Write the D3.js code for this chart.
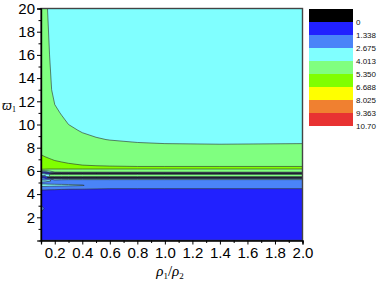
<!DOCTYPE html>
<html><head><meta charset="utf-8">
<script src="https://cdn.jsdelivr.net/npm/d3@7"></script>
<style>body{margin:0;background:#fff}svg{display:block}</style>
</head><body><svg id="c" width="381" height="283"></svg>
<script>
// grid columns (rho1/rho2) and rows (varpi1)
const xs = [0.1, 0.13, 0.16, 0.2, 0.25, 0.3, 0.4, 0.5, 0.6, 0.8, 1.0, 1.4, 2.0];
const ys = [20, 16, 13, 11, 9.5, 8.7, 8.0, 7.5, 7.0, 6.5, 6.35, 6.2, 6.05, 5.9, 5.83, 5.75, 5.69, 5.52, 5.45, 5.38, 5.3, 5.15, 4.95, 4.75, 4.5, 4.2, 3.3, 2.75, 2.2, 0];
const z = [
  [4.7, 4.3, 3.8, 3.3, 3.3, 3.3, 3.3, 3.3, 3.3, 3.3, 3.3, 3.3, 3.3],
  [4.7, 4.5, 4.05, 3.35, 3.3, 3.3, 3.3, 3.3, 3.3, 3.3, 3.3, 3.3, 3.3],
  [4.7, 4.6, 4.4, 3.5, 3.35, 3.3, 3.3, 3.3, 3.3, 3.3, 3.3, 3.3, 3.3],
  [4.7, 4.7, 4.6, 4.3, 3.92, 3.44, 3.3, 3.3, 3.3, 3.3, 3.3, 3.3, 3.3],
  [4.7, 4.7, 4.7, 4.6, 4.6, 4.3, 3.88, 3.75, 3.5, 3.4, 3.35, 3.3, 3.3],
  [4.7, 4.7, 4.7, 4.7, 4.7, 4.7, 4.4, 4.1, 3.98, 3.8, 3.63, 3.5, 3.63],
  [4.7, 4.7, 4.7, 4.7, 4.7, 4.7, 4.7, 4.6, 4.5, 4.4, 4.4, 4.4, 4.4],
  [5.2, 4.9, 4.8, 4.7, 4.7, 4.7, 4.7, 4.7, 4.7, 4.7, 4.7, 4.7, 4.7],
  [5.9, 5.7, 5.45, 5.2, 5.0, 4.9, 4.8, 4.75, 4.7, 4.7, 4.7, 4.7, 4.7],
  [6.2, 6.1, 6.0, 5.9, 5.75, 5.55, 5.35, 5.1, 4.9, 4.8, 4.8, 4.8, 4.8],
  [6.1, 6.0, 5.9, 5.8, 5.7, 5.6, 5.6, 5.8, 5.7, 5.5, 5.5, 5.5, 5.5],
  [5.8, 5.7, 5.6, 5.6, 5.6, 5.6, 5.6, 5.6, 5.6, 5.6, 5.6, 5.6, 5.6],
  [4.7, 4.6, 4.6, 4.6, 4.6, 4.6, 4.6, 4.6, 4.6, 4.6, 4.6, 4.6, 4.6],
  [0.5, 1.5, 3.0, 4.0, 4.3, 4.3, 4.3, 4.3, 4.3, 4.3, 4.3, 4.3, 4.3],
  [2.0, 1.0, 0.0, -0.3, -0.3, -0.3, -0.3, -0.3, -0.3, -0.3, -0.3, -0.3, -0.3],
  [4.5, 2.0, 0.5, -0.3, -0.3, -0.3, -0.3, -0.3, -0.3, -0.3, -0.3, -0.3, -0.3],
  [3.5, 3.5, 4.0, 4.4, 4.5, 4.5, 4.5, 4.5, 4.5, 4.5, 4.5, 4.5, 4.5],
  [1.0, 2.0, 4.0, 4.4, 4.4, 4.4, 4.4, 4.4, 4.4, 4.4, 4.4, 4.4, 4.4],
  [1.0, 0.3, -0.3, -0.3, -0.3, -0.3, -0.3, -0.3, -0.3, -0.3, -0.3, -0.3, -0.3],
  [2.8, 1.0, -0.2, -0.3, -0.3, -0.3, -0.3, -0.3, -0.3, -0.3, -0.3, -0.3, -0.3],
  [2.0, 2.1, 2.6, 3.0, 3.1, 3.1, 3.1, 3.1, 3.1, 3.1, 3.1, 3.1, 3.1],
  [3.2, 3.0, 2.8, 2.4, 2.1, 1.9, 1.9, 1.9, 1.9, 1.9, 1.9, 1.9, 1.9],
  [2.3, 2.3, 2.3, 2.3, 2.3, 2.3, 2.3, 2.2, 2.2, 2.2, 2.2, 2.2, 2.2],
  [3.3, 3.2, 3.1, 3.0, 2.95, 2.9, 2.75, 2.2, 2.1, 2.1, 2.1, 2.1, 2.1],
  [1.6, 1.6, 1.6, 1.6, 1.55, 1.5, 1.5, 1.45, 1.4, 1.4, 1.4, 1.4, 1.4],
  [1.1, 1.05, 1.0, 0.95, 0.9, 0.9, 0.85, 0.8, 0.8, 0.8, 0.8, 0.8, 0.8],
  [1.15, 0.8, 0.7, 0.7, 0.7, 0.7, 0.7, 0.7, 0.7, 0.7, 0.7, 0.7, 0.7],
  [1.6, 1.25, 0.8, 0.7, 0.7, 0.7, 0.7, 0.7, 0.7, 0.7, 0.7, 0.7, 0.7],
  [1.15, 0.8, 0.7, 0.7, 0.7, 0.7, 0.7, 0.7, 0.7, 0.7, 0.7, 0.7, 0.7],
  [0.7, 0.7, 0.7, 0.7, 0.7, 0.7, 0.7, 0.7, 0.7, 0.7, 0.7, 0.7, 0.7]
];
const levels = [0, 1.338, 2.675, 4.013, 5.350, 6.688, 8.025, 9.363, 10.70];
const levelLabels = ["0", "1.338", "2.675", "4.013", "5.350", "6.688", "8.025", "9.363", "10.70"];
const bandColors = ["#000000", "#2121ff", "#4a84f8", "#80ffff", "#80ff80", "#80ff00", "#ffff00", "#f08030", "#e83232"];
const xTicks = [0.2, 0.4, 0.6, 0.8, 1.0, 1.2, 1.4, 1.6, 1.8, 2.0];
const xMinor = [0.1, 0.3, 0.5, 0.7, 0.9, 1.1, 1.3, 1.5, 1.7, 1.9];
const yTicks = [2, 4, 6, 8, 10, 12, 14, 16, 18, 20];
const yMinor = [1, 3, 5, 7, 9, 11, 13, 15, 17, 19];

const svg = d3.select("#c");
const L = 41, R = 302.5, T = 8.5, B = 240.5;
const x = d3.scaleLinear().domain([0.1, 2.0]).range([L, R]);
const y = d3.scaleLinear().domain([0, 20]).range([B, T]);
const n = xs.length, m = ys.length;
const ix = d3.scaleLinear().domain(d3.range(n)).range(xs).clamp(true);
const iy = d3.scaleLinear().domain(d3.range(m)).range(ys).clamp(true);
const proj = d3.geoTransform({
  point: function(px, py) { this.stream.point(x(ix(px - 0.5)), y(iy(py - 0.5))); }
});
const path = d3.geoPath(proj);
const flat = z.flat();
const contours = d3.contours().size([n, m]).thresholds(levels.slice(0, 8))(flat);

svg.append("clipPath").attr("id", "pc").append("rect")
  .attr("x", L).attr("y", T).attr("width", R - L).attr("height", B - T);
const g = svg.append("g").attr("clip-path", "url(#pc)");
g.append("rect").attr("x", L).attr("y", T).attr("width", R - L).attr("height", B - T).attr("fill", bandColors[0]);
g.selectAll("path.band").data(contours).join("path")
  .attr("class", "band")
  .attr("d", path)
  .attr("fill", (d, i) => bandColors[i + 1])
  .attr("stroke", "#2b2b2b")
  .attr("stroke-width", 0.6)
  .attr("stroke-linejoin", "round");

// frame
svg.append("rect").attr("x", L).attr("y", T).attr("width", R - L).attr("height", B - T)
  .attr("fill", "none").attr("stroke", "#444").attr("stroke-width", 1.4);

const font = "Arial, 'Liberation Sans', sans-serif";
// axes
svg.append("g").attr("transform", `translate(0,${B})`)
  .call(d3.axisBottom(x).tickValues(xTicks).tickFormat(d3.format(".1f")).tickSize(4).tickPadding(3));
svg.append("g").attr("transform", `translate(0,${B})`)
  .call(d3.axisBottom(x).tickValues(xMinor).tickFormat("").tickSize(2.5));
svg.append("g").attr("transform", `translate(${L},0)`)
  .call(d3.axisLeft(y).tickValues(yTicks).tickSize(4).tickPadding(2));
svg.append("g").attr("transform", `translate(${L},0)`)
  .call(d3.axisLeft(y).tickValues(yMinor).tickFormat("").tickSize(2.5));
svg.selectAll(".domain").attr("stroke", "#000").attr("stroke-width", 1.2);
svg.selectAll(".tick line").attr("stroke", "#000").attr("stroke-width", 1);
svg.selectAll(".tick text").attr("font-family", font).attr("font-size", 15).attr("fill", "#000");

// axis titles
const serif = "'Liberation Serif', 'DejaVu Serif', serif";
const yt = svg.append("text").attr("x", 2).attr("y", 110)
  .attr("font-family", serif).attr("font-size", 14).attr("font-style", "italic");
yt.append("tspan").text("ϖ");
yt.append("tspan").attr("font-size", 8).attr("dy", 2).attr("font-style", "normal").text("1");
const xt = svg.append("text").attr("x", 170).attr("y", 276).attr("text-anchor", "middle")
  .attr("font-family", serif).attr("font-size", 15).attr("font-style", "italic");
xt.append("tspan").text("ρ");
xt.append("tspan").attr("font-size", 9).attr("dy", 3).attr("font-style", "normal").text("1");
xt.append("tspan").attr("dy", -3).attr("font-style", "normal").text("/");
xt.append("tspan").text("ρ");
xt.append("tspan").attr("font-size", 9).attr("dy", 3).attr("font-style", "normal").text("2");

// colour bar
const cb = d3.scaleLinear().domain([0, bandColors.length]).range([9, 126]);
const cbx = 309, cbw = 44;
svg.append("g").selectAll("rect").data(bandColors).join("rect")
  .attr("x", cbx).attr("y", (d, i) => cb(i)).attr("width", cbw)
  .attr("height", (d, i) => cb(i + 1) - cb(i)).attr("fill", d => d);
svg.append("g").selectAll("text").data(levelLabels).join("text")
  .attr("x", 356).attr("y", (d, i) => cb(i + 1)).attr("dy", "0.35em")
  .attr("font-family", font).attr("font-size", 8).attr("fill", "#111")
  .text(d => d);
</script></body></html>
